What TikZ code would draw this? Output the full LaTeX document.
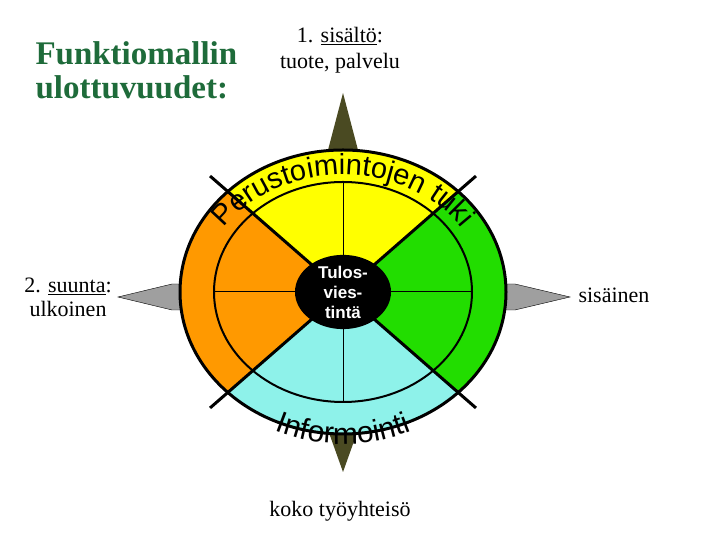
\documentclass[tikz,border=0pt]{standalone}
\usepackage{fontspec}
\setmainfont{Liberation Serif}
\setsansfont{Liberation Sans}
\usetikzlibrary{decorations.text,shapes.geometric}
\definecolor{titlegreen}{HTML}{1E6B3A}
\definecolor{olivearrow}{HTML}{4A4A22}
\definecolor{sectoryellow}{HTML}{FFFF00}
\definecolor{sectorgreen}{HTML}{22DD00}
\definecolor{sectorcyan}{HTML}{8EF2EA}
\definecolor{sectororange}{HTML}{FF9900}
\begin{document}
\begin{tikzpicture}[x=1pt,y=1pt]
\useasboundingbox (0,0) rectangle (720,540);

% arrows behind the wheel
\fill[olivearrow] (343,447) -- (358,390) -- (358,110) -- (343,68) -- (328,110) -- (328,390) -- cycle;
\fill[gray!75,draw=black,thin] (118,243) -- (172,256) -- (515,256) -- (570,243) -- (515,230) -- (172,230) -- cycle;

% sectors
\fill[sectoryellow] (343,248) -- +(45:163 and 142) arc[start angle=45,end angle=135,x radius=163,y radius=142] -- cycle;
\fill[sectororange] (343,248) -- +(135:163 and 142) arc[start angle=135,end angle=225,x radius=163,y radius=142] -- cycle;
\fill[sectorcyan] (343,248) -- +(225:163 and 142) arc[start angle=225,end angle=315,x radius=163,y radius=142] -- cycle;
\fill[sectorgreen] (343,248) -- +(315:163 and 142) arc[start angle=315,end angle=405,x radius=163,y radius=142] -- cycle;

% rings and spokes
\draw[line width=3pt] (343,248) ellipse (163 and 142);
\draw[line width=2pt] (343,248) ellipse (129 and 110);
\draw[line width=1pt] (343,248) -- ++(0,110) (343,248) -- ++(0,-110) (343,248) -- ++(129,0) (343,248) -- ++(-129,0);
\foreach \a in {45,135,225,315}
  \draw[line width=3pt] (343,248) -- ++(\a:188 and 164);

\node[ellipse,fill=black,minimum width=96,minimum height=70,inner sep=0pt,align=center,text=white,font=\sffamily\bfseries\fontsize{17}{20}\selectfont] (core) at (343,248) {Tulos-\\vies-\\tintä};

% curved labels
\path[decorate,decoration={text along path,text align=center,text={|\sffamily\fontsize{29}{29}\selectfont|Perustoimintojen tuki}}] (343,248) ++(165:142 and 117) arc[start angle=165,end angle=15,x radius=142,y radius=117];
\path[decorate,decoration={text along path,text align=center,text={|\sffamily\fontsize{30}{30}\selectfont|Informointi}}] (343,248) ++(228:168 and 152) arc[start angle=228,end angle=312,x radius=168,y radius=152];

% text labels
\node[anchor=west,align=left,text=titlegreen,font=\bfseries\fontsize{33}{34}\selectfont] (title) at (32,470) {Funktiomallin\\ulottuvuudet:};
\node[align=center,font=\fontsize{22}{26}\selectfont] (content) at (340,490) {1. \underline{sisältö}:\\tuote, palvelu};
\node[align=center,font=\fontsize{22}{24}\selectfont] (direction) at (68,243) {2. \underline{suunta}:\\ulkoinen};
\node[font=\fontsize{22}{24}\selectfont] (inner) at (614,245) {sisäinen};
\node[font=\fontsize{22}{24}\selectfont] (whole) at (340,29) {koko työyhteisö};

\end{tikzpicture}
\end{document}
